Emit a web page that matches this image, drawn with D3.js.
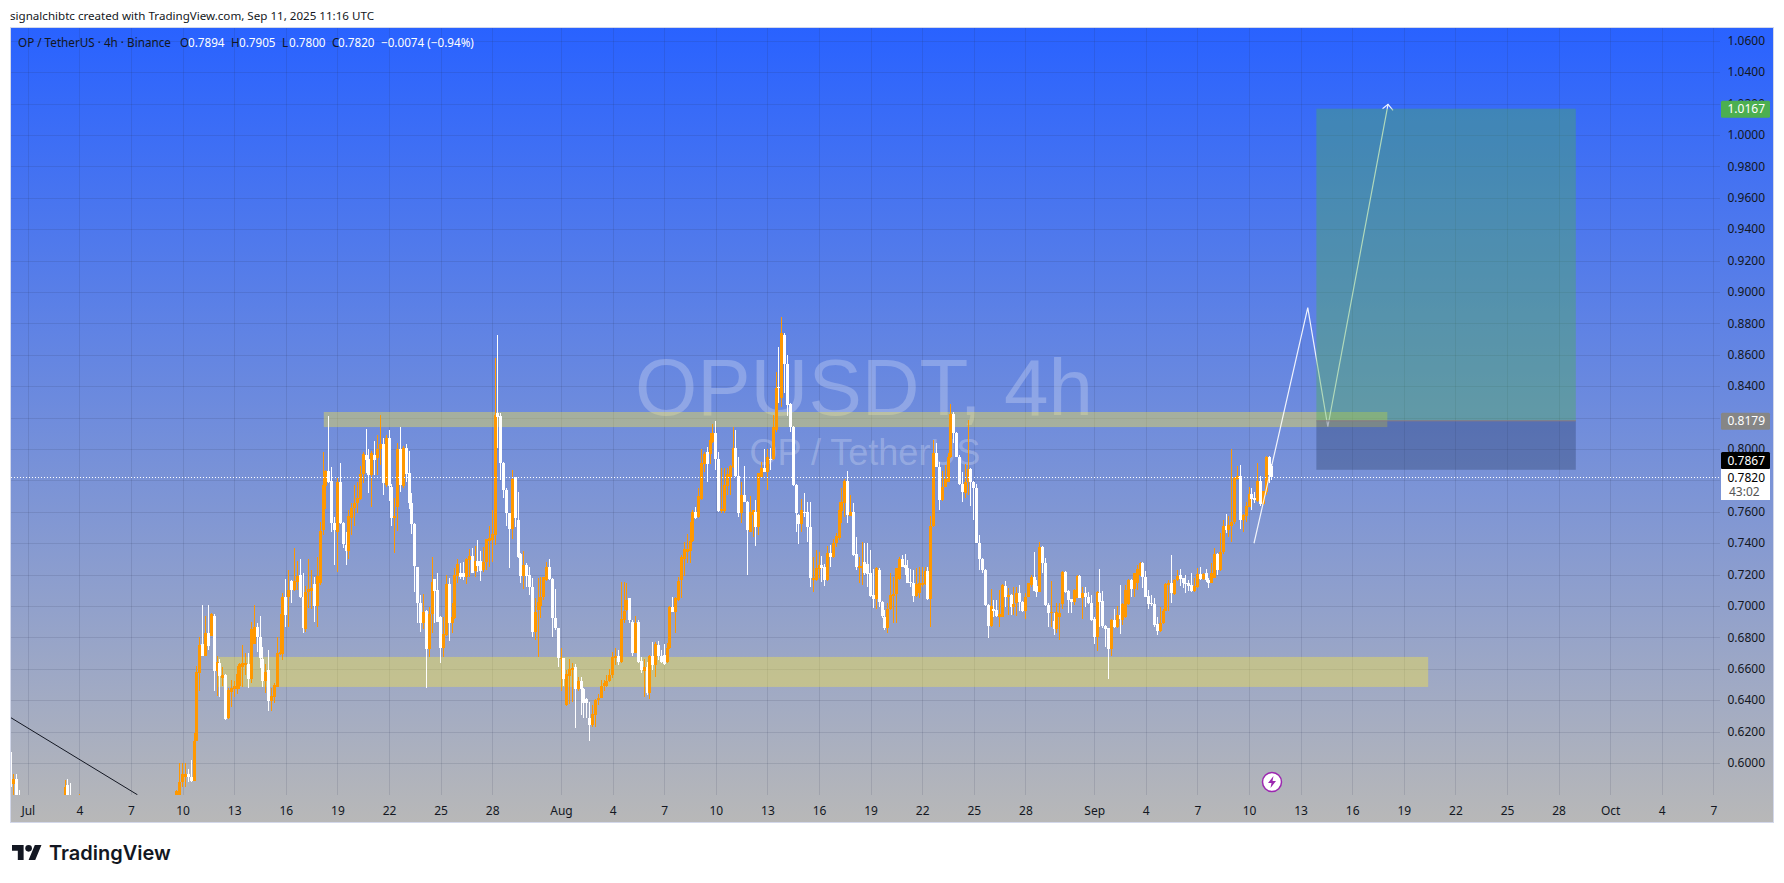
<!DOCTYPE html>
<html>
<head>
<meta charset="utf-8">
<title>OPUSDT 4h</title>
<script src="https://cdn.jsdelivr.net/npm/d3@7"></script>
<style>
  html, body { margin: 0; padding: 0; background: #fff; }
  svg { display: block; }
  text { font-family: "Noto Sans", "Liberation Sans", sans-serif; }
</style>
</head>
<body>
<div id="chart"></div>
<script>
// first bar is Jun 30 00:00 UTC, one bar every 4 hours
const firstBar = "2025-06-30T00:00:00Z";

const opens = [
  .6071,.5865,.5897,.5790,
  .570,.566,.563,.561,.565,.562,.559,.564,.566,.563,.560,.562,.565,.567,.564,
  .5690,.5859,.5720,.5670,.5640,.5680,
  .572,.569,.566,.563,.560,.558,.555,.553,.556,.554,.551,.549,.552,.550,.548,.551,.553,.550,.548,.546,.549,.551,.554,.552,.555,.557,.554,.556,.559,.561,.558,.560,.563,
  .5730,.5760,.5878,.5910,.5929,.5910,.5885,.6139,
  .6575,.6758,.6681,.6825,.6808,.6936,.6588,.6639,.6539,.6560,
  .6284,.6454,.6469,.6473,.6490,.6609,.6624,.6630,.6533,.6758,
  .6868,.6800,.6664,.6524,.6592,.6397,.6422,.6486,.6694,.6694,
  .7057,.7057,.7161,.7101,.7155,.7197,.7055,.6851,.7091,.7097,
  .7140,.7000,.7144,.7484,.7764,.7861,.7796,.7526,.7473,.7789,
  .7526,.7388,.7352,.7562,.7622,.7653,.7681,.7840,.7961,.7934,
  .7834,.7961,.7940,.7997,.8031,.7770,.8067,.7755,.7560,.7632,
  .7997,.7764,.8004,.7845,.7658,.7522,.7246,.7017,.6889,.6968,
  .6726,.6946,.7169,.7101,.6931,.6734,.6815,.7140,.6893,.6921,
  .7191,.7208,.7208,.7182,.7293,.7318,.7225,.7288,.7288,.7229,
  .7280,.7416,.7420,.7452,.8226,.8209,.7912,.7738,.7589,.7487,
  .7819,.7547,.7330,.7190,.7260,.7196,.7118,.6836,.6974,.6999,
  .7054,.7165,.7245,.7169,.6925,.6857,.6659,.6666,.6369,.6553,
  .6592,.6611,.6468,.6521,.6471,.6405,.6288,.6241,.6305,.6400,
  .6415,.6490,.6492,.6519,.6560,.6666,.6681,.6644,.6910,.6974,
  .7048,.6895,.6702,.6895,.6649,.6587,.6613,.6443,.6681,.6623,
  .6751,.6681,.6687,.6645,.6729,.6991,.6963,.7037,.7165,.7300,
  .7345,.7349,.7415,.7600,.7564,.7678,.7903,.7982,.7967,.8046,
  .8099,.7933,.7606,.7606,.7763,.7823,.7886,.8003,.7827,.7589,
  .7706,.7663,.7472,.7579,.7600,.7504,.7823,.7876,.7855,.7935,
  .7933,.8120,.8396,.8326,.8725,.8540,.8286,.8141,.7770,.7579,
  .7521,.7600,.7600,.7504,.7165,.7165,.7233,.7260,.7250,.7165,
  .7334,.7309,.7398,.7430,.7606,.7653,.7795,.7574,.7595,.7328,
  .7243,.7243,.7281,.7270,.7207,.7069,.7041,.7228,.7026,.6931,
  .6857,.6978,.7063,.7075,.7169,.7298,.7260,.7239,.7152,.7147,
  .7063,.7084,.7133,.7137,.7222,.7041,.7508,.7971,.7886,.7674,
  .7759,.7791,.7946,.8222,.8103,.7950,.7776,.7716,.7791,.7869,
  .7791,.7748,.7402,.7296,.7228,.7005,.6871,.6978,.6973,.6931,
  .6931,.7126,.7054,.7069,.6994,.7016,.7084,.7026,.6969,.7058,
  .7133,.7186,.7126,.7090,.7373,.7275,.7005,.6952,.6905,.6850,
  .6927,.7012,.7218,.7097,.7041,.7027,.7052,.7190,.7052,.7080,
  .7058,.7016,.6914,.6799,.7084,.7033,.6872,.6857,.6727,.6910,
  .6863,.6942,.6910,.6927,.7012,.7165,.7105,.7143,.7196,.7271,
  .7182,.7063,.7016,.7012,.6882,.6838,.6889,.6969,.7133,.7147,
  .7075,.7165,.7194,.7175,.7147,.7143,.7133,.7095,.7118,.7203,
  .7169,.7211,.7165,.7148,.7179,.7330,.7228,.7345,.7508,.7483,
  .7508,.7536,.7806,.7827,.7547,.7572,.7632,.7712,.7685,.7668,
  .7795,.7649,.7727,.7946,.7894
];

const highs = [
  .6101,.5929,.5929,.5827,
  .573,.570,.567,.568,.569,.566,.567,.570,.571,.568,.566,.568,.571,.572,.572,
  .5891,.5897,.5873,.5740,.5710,.5802,
  .576,.573,.570,.567,.564,.562,.559,.560,.560,.558,.555,.556,.556,.554,.555,.557,.557,.554,.552,.553,.555,.558,.558,.559,.561,.561,.560,.563,.565,.565,.564,.567,.570,
  .5830,.6000,.6000,.6000,.5961,.6018,.6190,.6617,
  .6800,.7006,.6938,.7006,.6957,.6949,.6681,.6660,.6613,.6565,
  .6475,.6528,.6524,.6617,.6634,.6751,.6698,.6702,.6900,.7004,
  .6889,.6936,.6736,.6630,.6719,.6475,.6511,.6800,.6949,.7084,
  .7171,.7229,.7165,.7367,.7288,.7297,.7208,.7127,.7297,.7229,
  .7186,.7314,.7537,.7980,.7865,.8210,.7887,.7568,.7813,.7908,
  .7537,.7473,.7611,.7658,.7770,.7791,.7891,.7982,.8125,.7997,
  .7989,.8053,.8089,.8216,.8067,.8089,.8120,.7777,.7685,.8036,
  .8137,.8019,.8031,.7987,.7717,.7526,.7250,.7067,.7074,.6972,
  .6991,.7310,.7173,.7208,.6936,.6931,.7195,.7178,.7017,.7239,
  .7297,.7271,.7280,.7302,.7360,.7367,.7382,.7420,.7350,.7377,
  .7428,.7509,.7611,.8577,.8725,.8226,.7917,.7748,.7594,.7865,
  .7824,.7727,.7334,.7349,.7275,.7250,.7175,.7048,.7175,.7186,
  .7186,.7279,.7296,.7175,.7105,.6862,.6730,.6670,.6592,.6659,
  .6634,.6630,.6545,.6549,.6475,.6411,.6390,.6369,.6405,.6439,
  .6528,.6528,.6560,.6596,.6708,.6730,.6719,.7154,.7154,.7143,
  .7052,.6910,.6937,.6910,.6676,.6662,.6645,.6687,.6772,.6772,
  .6778,.6719,.6757,.6761,.6999,.7058,.7058,.7186,.7324,.7409,
  .7455,.7536,.7610,.7632,.7748,.7997,.7982,.8014,.8099,.8158,
  .8177,.7982,.7876,.7876,.7876,.7897,.8137,.8120,.7946,.7791,
  .7891,.7667,.7700,.7614,.7674,.7848,.7918,.7999,.7999,.8007,
  .8215,.8491,.8651,.8842,.8736,.8598,.8290,.8145,.7774,.7583,
  .7678,.7721,.7663,.7659,.7313,.7356,.7345,.7317,.7266,.7381,
  .7387,.7424,.7462,.7663,.7748,.7806,.7859,.7706,.7653,.7436,
  .7313,.7409,.7398,.7398,.7356,.7232,.7245,.7239,.7033,.6973,
  .7016,.7207,.7181,.7243,.7313,.7324,.7330,.7292,.7232,.7228,
  .7239,.7249,.7245,.7245,.7249,.7572,.8056,.8035,.7918,.7861,
  .7897,.7975,.8285,.8237,.8107,.7961,.7854,.7907,.8183,.7876,
  .7795,.7776,.7451,.7303,.7232,.7012,.7105,.7037,.7037,.7101,
  .7139,.7160,.7111,.7073,.7122,.7122,.7133,.7030,.7084,.7147,
  .7200,.7345,.7165,.7409,.7381,.7303,.7016,.7160,.6952,.7016,
  .7016,.7222,.7222,.7101,.7045,.7105,.7194,.7196,.7118,.7122,
  .7088,.7069,.6927,.7094,.7232,.7095,.6878,.6861,.6914,.6980,
  .6999,.7133,.7016,.7133,.7169,.7169,.7211,.7260,.7277,.7277,
  .7224,.7101,.7069,.7048,.6927,.6990,.6978,.7143,.7165,.7324,
  .7169,.7228,.7232,.7179,.7196,.7165,.7207,.7175,.7239,.7245,
  .7207,.7238,.7179,.7271,.7366,.7334,.7462,.7547,.7585,.7572,
  .7997,.7818,.7891,.7897,.7583,.7664,.7755,.7748,.7723,.7908,
  .7827,.7735,.7954,.7954,.7905
];

const lows = [
  .5835,.5780,.5700,.5680,
  .562,.560,.557,.558,.559,.555,.556,.560,.560,.556,.557,.559,.561,.560,.562,
  .5650,.5660,.5640,.5620,.5600,.5640,
  .565,.562,.559,.556,.554,.551,.549,.549,.550,.547,.545,.545,.546,.544,.544,.547,.546,.544,.542,.542,.545,.547,.548,.548,.551,.550,.550,.552,.555,.554,.554,.556,.559,
  .5690,.5700,.5846,.5846,.5878,.5878,.5885,.6139,
  .6460,.6681,.6681,.6719,.6808,.6460,.6426,.6422,.6490,.6274,
  .6278,.6354,.6422,.6439,.6473,.6486,.6560,.6479,.6511,.6758,
  .6709,.6603,.6486,.6443,.6333,.6333,.6380,.6486,.6687,.6656,
  .6868,.6868,.7021,.7095,.7101,.7048,.6825,.6836,.6985,.6978,
  .6900,.6868,.7133,.7452,.7615,.7785,.7473,.7261,.7218,.7522,
  .7367,.7261,.7297,.7452,.7509,.7590,.7676,.7781,.7845,.7717,
  .7632,.7834,.7834,.7898,.7707,.7755,.7670,.7509,.7335,.7479,
  .7728,.7749,.7791,.7619,.7458,.7091,.6893,.6836,.6851,.6479,
  .6673,.6825,.6893,.6895,.6639,.6673,.6810,.6779,.6825,.6916,
  .7144,.7169,.7165,.7140,.7186,.7208,.7186,.7218,.7161,.7218,
  .7229,.7250,.7282,.7388,.8003,.7802,.7685,.7509,.7243,.7424,
  .7504,.7308,.7143,.7105,.7122,.7069,.6804,.6782,.6672,.6920,
  .7037,.7160,.7164,.6804,.6846,.6613,.6458,.6492,.6364,.6373,
  .6390,.6220,.6458,.6305,.6284,.6284,.6141,.6231,.6231,.6369,
  .6411,.6460,.6485,.6517,.6538,.6623,.6623,.6638,.6889,.6970,
  .6889,.6681,.6697,.6634,.6570,.6422,.6432,.6407,.6592,.6549,
  .6655,.6634,.6625,.6638,.6725,.6959,.6825,.7033,.7048,.7190,
  .7271,.7271,.7410,.7551,.7560,.7674,.7855,.7791,.7903,.8040,
  .7865,.7600,.7589,.7589,.7706,.7706,.7880,.7823,.7568,.7526,
  .7659,.7196,.7468,.7441,.7381,.7451,.7818,.7850,.7738,.7865,
  .7928,.8109,.8290,.8269,.8353,.8211,.8109,.7766,.7472,.7392,
  .7472,.7568,.7409,.7122,.7090,.7160,.7175,.7154,.7126,.7160,
  .7250,.7305,.7377,.7419,.7525,.7568,.7530,.7570,.7320,.7228,
  .7143,.7133,.7196,.7122,.7058,.6984,.6978,.6994,.6920,.6846,
  .6825,.6973,.6888,.6888,.7165,.7245,.7196,.7143,.7122,.7026,
  .7058,.7048,.7122,.7133,.7037,.6867,.7504,.7882,.7610,.7670,
  .7755,.7787,.7939,.8035,.7946,.7769,.7663,.7685,.7706,.7636,
  .7547,.7398,.7228,.7211,.7000,.6793,.6866,.6931,.6931,.6863,
  .6927,.6994,.6941,.6941,.6941,.6935,.6969,.6963,.6914,.7054,
  .7122,.7092,.7058,.7086,.7207,.7001,.6867,.6867,.6814,.6825,
  .6782,.6978,.7080,.6956,.6956,.7005,.7048,.7048,.6914,.6995,
  .7012,.6906,.6757,.6712,.6867,.6857,.6740,.6534,.6680,.6859,
  .6859,.6821,.6878,.6923,.7008,.7058,.7058,.7101,.7192,.7111,
  .7054,.6980,.6999,.6867,.6814,.6834,.6885,.6965,.6969,.7020,
  .7071,.7161,.7126,.7111,.7084,.7097,.7091,.7091,.7111,.7165,
  .7165,.7154,.7111,.7144,.7175,.7196,.7224,.7330,.7462,.7436,
  .7409,.7521,.7802,.7487,.7472,.7536,.7628,.7610,.7657,.7664,
  .7636,.7645,.7706,.7780,.7800
];

const closes = [
  .5848,.5897,.5720,.5700,
  .566,.563,.561,.565,.562,.559,.564,.566,.563,.560,.562,.565,.567,.564,.569,
  .5846,.5700,.5670,.5640,.5680,.5720,
  .569,.566,.563,.560,.558,.555,.553,.556,.554,.551,.549,.552,.550,.548,.551,.553,.550,.548,.546,.549,.551,.554,.552,.555,.557,.554,.556,.559,.561,.558,.560,.563,.566,
  .5821,.5878,.5929,.5929,.5910,.5885,.6139,.6581,
  .6751,.6681,.6830,.6745,.6949,.6588,.6645,.6554,.6560,.6278,
  .6465,.6475,.6490,.6566,.6630,.6634,.6634,.6533,.6851,.6868,
  .6800,.6666,.6524,.6581,.6397,.6426,.6496,.6702,.6709,.7055,
  .6942,.7101,.7101,.7161,.7193,.7055,.6862,.7091,.7108,.7112,
  .7000,.7191,.7477,.7770,.7861,.7791,.7526,.7484,.7791,.7526,
  .7394,.7352,.7575,.7626,.7658,.7685,.7840,.7968,.7929,.7834,
  .7976,.7929,.7997,.8029,.7785,.8067,.7764,.7562,.7573,.7997,
  .7770,.8004,.7840,.7658,.7522,.7254,.7017,.6893,.6963,.6726,
  .6946,.7155,.7097,.6900,.6734,.6821,.7140,.6889,.6927,.7195,
  .7267,.7182,.7182,.7297,.7318,.7212,.7288,.7254,.7225,.7280,
  .7424,.7430,.7458,.8216,.8205,.7912,.7738,.7589,.7487,.7806,
  .7557,.7313,.7190,.7260,.7190,.7118,.6836,.6963,.7027,.7054,
  .7182,.7245,.7169,.6925,.6857,.6666,.6666,.6532,.6564,.6596,
  .6602,.6471,.6521,.6471,.6383,.6383,.6241,.6311,.6400,.6411,
  .6490,.6507,.6519,.6560,.6672,.6681,.6645,.6916,.6967,.7037,
  .6910,.6702,.6889,.6644,.6592,.6613,.6447,.6681,.6623,.6757,
  .6681,.6645,.6630,.6730,.6991,.6963,.7048,.7158,.7309,.7360,
  .7360,.7415,.7600,.7557,.7700,.7908,.7967,.7903,.8056,.8099,
  .7933,.7606,.7615,.7770,.7840,.7893,.8003,.7827,.7593,.7706,
  .7663,.7483,.7600,.7610,.7504,.7844,.7880,.7855,.7946,.7929,
  .8137,.8390,.8390,.8736,.8540,.8279,.8141,.7770,.7589,.7521,
  .7610,.7596,.7504,.7175,.7175,.7239,.7260,.7239,.7165,.7334,
  .7313,.7398,.7445,.7610,.7659,.7795,.7578,.7595,.7324,.7249,
  .7254,.7254,.7207,.7202,.7065,.7041,.7243,.7026,.6935,.6857,
  .6978,.7069,.7075,.7239,.7298,.7249,.7239,.7147,.7143,.7063,
  .7139,.7143,.7147,.7222,.7041,.7508,.7971,.7886,.7674,.7759,
  .7806,.7946,.8222,.8103,.7950,.7776,.7727,.7791,.7869,.7791,
  .7748,.7402,.7296,.7228,.7005,.6871,.7001,.6969,.6935,.6948,
  .7133,.7054,.7069,.6994,.7009,.7084,.7026,.6969,.7058,.7143,
  .7186,.7096,.7090,.7373,.7275,.7005,.6956,.6963,.6850,.6963,
  .6956,.7218,.7090,.7037,.7027,.7101,.7190,.7052,.7080,.7058,
  .7016,.6910,.6804,.7090,.7027,.6872,.6855,.6727,.6910,.6863,
  .6942,.6914,.7012,.7101,.7165,.7105,.7207,.7232,.7271,.7182,
  .7058,.7012,.7012,.6878,.6842,.6889,.6969,.7139,.7143,.7080,
  .7165,.7192,.7169,.7143,.7139,.7126,.7095,.7126,.7203,.7169,
  .7203,.7165,.7148,.7207,.7330,.7228,.7345,.7508,.7483,.7515,
  .7536,.7812,.7827,.7547,.7579,.7636,.7710,.7680,.7674,.7795,
  .7649,.7731,.7946,.7833,.7820
];

const priceTicks = [1.06,1.04,1.02,1.00,.98,.96,.94,.92,.90,.88,.86,.84,.82,.80,.78,.76,.74,.72,.70,.68,.66,.64,.62,.60];
// these two sit fully under the price labels in the picture
const hiddenPriceLabels = [.82,.78];
const timeDates = ["2025-07-01","2025-07-04","2025-07-07","2025-07-10","2025-07-13","2025-07-16","2025-07-19","2025-07-22","2025-07-25","2025-07-28",
  "2025-08-01","2025-08-04","2025-08-07","2025-08-10","2025-08-13","2025-08-16","2025-08-19","2025-08-22","2025-08-25","2025-08-28",
  "2025-09-01","2025-09-04","2025-09-07","2025-09-10","2025-09-13","2025-09-16","2025-09-19","2025-09-22","2025-09-25","2025-09-28",
  "2025-10-01","2025-10-04","2025-10-07"];
const timeLabels = ["Jul","4","7","10","13","16","19","22","25","28","Aug","4","7","10","13","16","19","22","25","28","Sep","4","7","10","13","16","19","22","25","28","Oct","4","7"];

// drawings, in time and price
const zonePrices = [[.8235,.8139],[.6675,.6484]];
const zoneTimes = [["2025-07-18T05:00:00Z","2025-09-18T01:00:00Z"],["2025-07-12T01:00:00Z","2025-09-20T10:00:00Z"]];
const positionTimes = ["2025-09-13T22:00:00Z","2025-09-29T00:00:00Z"];
const targetPrice = 1.0167, entryPrice = .8179, stopPrice = .7867, lastPrice = .7820;
const zigzagTimes = ["2025-09-10T07:00:00Z","2025-09-13T10:00:00Z","2025-09-14T14:00:00Z","2025-09-18T02:00:00Z"];
const zigzagPrices = [.7399,.8900,.8141,1.0195];
const trendTimes = ["2025-06-30T00:00:00Z","2025-07-07T09:00:00Z"];
const trendPrices = [.6289,.5797];

const width = 1784, height = 883;
const frame = { left: 11, right: 1773, top: 28, bottom: 822 };
const paneRight = 1720, paneBottom = 795;
const axisColor = "#131722";
const upColor = "#ff9800", downColor = "#ffffff";

const x = d3.scaleUtc()
  .domain([new Date("2025-07-01T00:00:00Z"), new Date("2025-10-07T00:00:00Z")])
  .range([27.8, 1713.4]);
const y = d3.scaleLinear().domain([1.06, .60]).range([40.7, 762.9]);

const t0 = new Date(firstBar).getTime();
const bars = opens.map((o, i) => ({
  t: new Date(t0 + i * 4 * 3600 * 1000),
  o, h: highs[i], l: lows[i], c: closes[i]
}));

const svg = d3.select("#chart").append("svg").attr("width", width).attr("height", height);

const defs = svg.append("defs");
const grad = defs.append("linearGradient").attr("id", "bg")
  .attr("x1", 0).attr("y1", 0).attr("x2", 0).attr("y2", 1);
grad.append("stop").attr("offset", "0%").attr("stop-color", "#2962ff");
grad.append("stop").attr("offset", "100%").attr("stop-color", "#b8b8b8");
defs.append("clipPath").attr("id", "pane").append("rect")
  .attr("x", frame.left).attr("y", frame.top)
  .attr("width", paneRight - frame.left).attr("height", paneBottom - frame.top);

// top caption
svg.append("text").attr("x", 10).attr("y", 19.5)
  .attr("font-size", 11.6).attr("fill", "#131722")
  .text("signalchibtc created with TradingView.com, Sep 11, 2025 11:16 UTC");

// background and frame
svg.append("rect")
  .attr("x", frame.left - .5).attr("y", frame.top - .5)
  .attr("width", frame.right - frame.left + 1).attr("height", frame.bottom - frame.top + 1)
  .attr("fill", "url(#bg)").attr("stroke", "#d3d8ea");

// grid
const grid = svg.append("g").attr("stroke", "rgba(40,46,80,0.13)").attr("shape-rendering", "crispEdges");
grid.selectAll(".h").data(priceTicks).enter().append("line")
  .attr("x1", frame.left).attr("x2", paneRight)
  .attr("y1", d => Math.round(y(d)) + .5).attr("y2", d => Math.round(y(d)) + .5);
grid.selectAll(".v").data(timeDates).enter().append("line")
  .attr("x1", d => Math.round(x(new Date(d))) + .5).attr("x2", d => Math.round(x(new Date(d))) + .5)
  .attr("y1", frame.top).attr("y2", paneBottom);

// watermark
const mark = svg.append("g").attr("fill", "#fff").attr("fill-opacity", .24)
  .attr("text-anchor", "middle");
mark.append("text").attr("x", 864).attr("y", 415).attr("font-size", 80)
  .style("font-family", "'Liberation Sans'").text("OPUSDT, 4h");
mark.append("text").attr("x", 865).attr("y", 465).attr("font-size", 36)
  .style("font-family", "'Liberation Sans'").text("OP / TetherUS");

const pane = svg.append("g").attr("clip-path", "url(#pane)");

// zones
pane.selectAll(".zone").data(zonePrices).enter().append("rect")
  .attr("x", (d, i) => x(new Date(zoneTimes[i][0])))
  .attr("width", (d, i) => x(new Date(zoneTimes[i][1])) - x(new Date(zoneTimes[i][0])))
  .attr("y", d => y(d[0]))
  .attr("height", d => y(d[1]) - y(d[0]))
  .attr("fill", "rgba(255,235,59,0.38)");

// candles
const wicks = pane.append("g").attr("shape-rendering", "crispEdges");
wicks.selectAll("rect").data(bars).enter().append("rect")
  .attr("x", d => Math.round(x(d.t) - .5))
  .attr("width", 1)
  .attr("y", d => y(d.h))
  .attr("height", d => Math.max(y(d.l) - y(d.h), 1))
  .attr("fill", d => d.c >= d.o ? upColor : downColor);
const bodies = pane.append("g").attr("shape-rendering", "crispEdges");
bodies.selectAll("rect").data(bars).enter().append("rect")
  .attr("x", d => Math.round(x(d.t) - .5) - 1)
  .attr("width", 3)
  .attr("y", d => y(Math.max(d.o, d.c)))
  .attr("height", d => Math.max(Math.abs(y(d.o) - y(d.c)), 1))
  .attr("fill", d => d.c >= d.o ? upColor : downColor);

// trend line and forecast arrow, the position tool tints the arrow so it goes on top
const lineGen = d3.line().x(d => x(new Date(d[0]))).y(d => y(d[1]));
pane.append("path").attr("d", lineGen(d3.zip(trendTimes, trendPrices)))
  .attr("fill", "none").attr("stroke", "#131722").attr("stroke-width", 1);
const zigzag = d3.zip(zigzagTimes, zigzagPrices);
pane.append("path").attr("d", lineGen(zigzag))
  .attr("fill", "none").attr("stroke", "#fff").attr("stroke-opacity", .9).attr("stroke-width", 1.2);
const tip = zigzag[zigzag.length - 1];
const tipX = x(new Date(tip[0])), tipY = y(tip[1]);
pane.append("path")
  .attr("d", `M${tipX - 5.5},${tipY + 4.5}L${tipX},${tipY}L${tipX + 5},${tipY + 6}`)
  .attr("fill", "none").attr("stroke", "#fff").attr("stroke-opacity", .9).attr("stroke-width", 1.2);

// long position tool
const posX0 = x(new Date(positionTimes[0])), posX1 = x(new Date(positionTimes[1]));
pane.append("rect").attr("x", posX0).attr("width", posX1 - posX0)
  .attr("y", y(targetPrice)).attr("height", y(entryPrice) - y(targetPrice))
  .attr("fill", "rgba(76,175,80,0.38)");
pane.append("rect").attr("x", posX0).attr("width", posX1 - posX0)
  .attr("y", y(entryPrice)).attr("height", y(stopPrice) - y(entryPrice))
  .attr("fill", "rgba(40,60,100,0.35)");
pane.append("line").attr("x1", posX0).attr("x2", posX1)
  .attr("y1", y(entryPrice)).attr("y2", y(entryPrice))
  .attr("stroke", "#8a7a80").attr("stroke-width", 1);

// last price dotted line
svg.append("line").attr("x1", frame.left).attr("x2", paneRight)
  .attr("y1", Math.round(y(lastPrice)) + .5).attr("y2", Math.round(y(lastPrice)) + .5)
  .attr("stroke", "#fff").attr("stroke-width", 1).attr("stroke-dasharray", "1,2");

// axes
const fmtPrice = d3.format(".4f");
const yAxis = svg.append("g").attr("transform", `translate(1765,0)`)
  .call(d3.axisRight(y).tickValues(priceTicks.filter(p => !hiddenPriceLabels.includes(p)))
    .tickFormat(fmtPrice).tickSize(0));
yAxis.select(".domain").remove();
yAxis.selectAll("text").attr("x", 0).attr("text-anchor", "end")
  .attr("font-size", 12).attr("font-family", null).attr("fill", axisColor);

const xAxis = svg.append("g").attr("transform", `translate(0,${paneBottom})`)
  .call(d3.axisBottom(x).tickValues(timeDates.map(d => new Date(d)))
    .tickFormat((d, i) => timeLabels[i]).tickSize(0));
xAxis.select(".domain").remove();
xAxis.selectAll("text").attr("y", 11).attr("dy", ".71em")
  .attr("font-size", 12).attr("font-family", null).attr("fill", axisColor);

// price labels
function priceLabel(top, h, fill, color, text) {
  svg.append("rect").attr("x", 1721).attr("y", top).attr("width", 49).attr("height", h)
    .attr("rx", 1.5).attr("fill", fill);
  svg.append("text").attr("x", 1765).attr("y", top + h / 2 + 4.2).attr("text-anchor", "end")
    .attr("font-size", 12).attr("fill", color).text(text);
}
priceLabel(y(targetPrice) - 8, 17, "#4caf50", "#fff", fmtPrice(targetPrice));
priceLabel(y(entryPrice) - 8, 17, "#868686", "#fff", fmtPrice(entryPrice));
priceLabel(452, 17, "#000", "#fff", fmtPrice(stopPrice));
svg.append("rect").attr("x", 1721).attr("y", 469).attr("width", 49).attr("height", 31).attr("fill", "#fff");
svg.append("text").attr("x", 1765).attr("y", 482).attr("text-anchor", "end")
  .attr("font-size", 12).attr("fill", "#000").text(fmtPrice(lastPrice));
svg.append("text").attr("x", 1729).attr("y", 496)
  .attr("font-size", 12).attr("fill", "#555").text("43:02");

// header line
const headerParts = [
  [18, "OP / TetherUS · 4h · Binance", axisColor],
  [180, "O", axisColor], [188, "0.7894", "#fff"],
  [231, "H", axisColor], [239, "0.7905", "#fff"],
  [282, "L", axisColor], [289, "0.7800", "#fff"],
  [332, "C", axisColor], [338, "0.7820", "#fff"],
  [381, "−0.0074 (−0.94%)", "#fff"]
];
svg.append("g").selectAll("text").data(headerParts).enter().append("text")
  .attr("x", d => d[0]).attr("y", 46.5)
  .attr("font-size", 11.7).attr("fill", d => d[2]).text(d => d[1]);

// event marker
const ev = svg.append("g").attr("transform", "translate(1272,782)");
ev.append("circle").attr("r", 9.5).attr("fill", "#fff").attr("stroke", "#9c27b0").attr("stroke-width", 1.5);
ev.append("path").attr("d", "M1.5,-6L-4,1H-0.5L-1.5,6L4,-1H0.5Z").attr("fill", "#9c27b0");

// tradingview logo
const logo = svg.append("g").attr("transform", "translate(12,841.7) scale(0.83)").attr("fill", "#131722");
logo.append("path").attr("d", "M14 22H7V11H0V4h14v18zM28 22h-8l7.5-18h8L28 22z");
logo.append("circle").attr("cx", 20).attr("cy", 8).attr("r", 4);
svg.append("text").attr("x", 49).attr("y", 860)
  .style("font-family", "Inter").attr("font-weight", 600).attr("font-size", 20)
  .attr("fill", "#131722").text("TradingView");
</script>
</body>
</html>
